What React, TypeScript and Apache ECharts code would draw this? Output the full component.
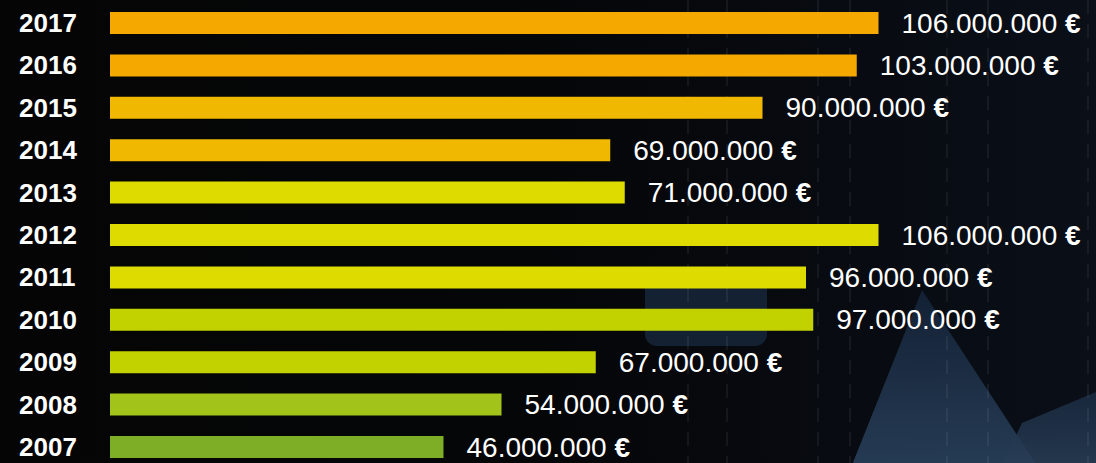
import React, { useEffect, useRef } from "react";
import * as echarts from "echarts";

// Data (bottom to top)
const years = ["2007", "2008", "2009", "2010", "2011", "2012", "2013", "2014", "2015", "2016", "2017"];
const amountsEur = [46000000, 54000000, 67000000, 97000000, 96000000, 106000000, 71000000, 69000000, 90000000, 103000000, 106000000];

// Styles
const barColors = ["#7DAE25", "#A2C41A", "#C2D200", "#C2D200", "#DDDB00", "#DDDB00", "#DDDB00", "#F0B800", "#F0B800", "#F5A800", "#F5A800"];
const bgLines = [688, 727, 818, 850, 947, 988, 1088];

function formatEuro(v: number): string {
  return String(Math.round(v)).replace(/\B(?=(\d{3})+(?!\d))/g, ".");
}

export default function App() {
  const ref = useRef<HTMLDivElement>(null);
  useEffect(() => {
    if (!ref.current) return;
    const chart = echarts.init(ref.current, undefined, { renderer: "svg" });
    const graphics: any[] = [
      {
        type: "rect",
        silent: true,
        z: -10,
        shape: { x: 0, y: 0, width: 1096, height: 470 },
        style: {
          fill: new echarts.graphic.LinearGradient(0, 0, 1, 0, [
            { offset: 0, color: "#050505" },
            { offset: 0.5, color: "#050608" },
            { offset: 1, color: "#0a0f18" },
          ]),
        },
      },
      {
        type: "rect",
        silent: true,
        z: -9,
        shape: { x: 645, y: 268, width: 122, height: 78, r: 12 },
        style: { fill: "#16263a", opacity: 0.85 },
      },
      {
        type: "polygon",
        silent: true,
        z: -9,
        shape: { points: [[850, 470], [922, 290], [1040, 470]] },
        style: {
          opacity: 0.85,
          fill: new echarts.graphic.LinearGradient(0, 0, 0, 1, [
            { offset: 0, color: "#15243a" },
            { offset: 1, color: "#2b4460" },
          ]),
        },
      },
      {
        type: "polygon",
        silent: true,
        z: -9,
        shape: { points: [[1000, 470], [1022, 423], [1096, 392], [1096, 470]] },
        style: {
          opacity: 0.85,
          fill: new echarts.graphic.LinearGradient(0, 0, 0, 1, [
            { offset: 0, color: "#1a2b42" },
            { offset: 1, color: "#2a4058" },
          ]),
        },
      },
    ];
    bgLines.forEach((x) => {
      graphics.push({
        type: "line",
        silent: true,
        z: -8,
        shape: { x1: x, y1: 0, x2: x, y2: 470 },
        style: { stroke: "rgba(255,255,255,0.06)", lineWidth: 2, lineDash: [14, 10] },
      });
    });

    chart.setOption({
      animation: false,
      backgroundColor: "#050505",
      graphic: graphics,
      grid: { left: 110, right: 0, top: 1.8, height: 466.4, containLabel: false },
      xAxis: {
        type: "value",
        min: 0,
        max: 136000000,
        show: false,
      },
      yAxis: {
        type: "category",
        data: years,
        axisLine: { show: false },
        axisTick: { show: false },
        splitLine: { show: false },
        axisLabel: {
          align: "left",
          margin: 91,
          color: "#ffffff",
          fontFamily: "Liberation Sans",
          fontWeight: "bold",
          fontSize: 26,
        },
      },
      series: [
        {
          type: "bar",
          barWidth: 22,
          data: amountsEur.map((v, i) => ({ value: v, itemStyle: { color: barColors[i] } })),
          label: {
            show: true,
            position: "right",
            distance: 23,
            formatter: (p: any) => `{v|${formatEuro(p.value)} }{e|€}`,
            rich: {
              v: { color: "#ffffff", fontFamily: "Liberation Sans", fontSize: 28 },
              e: { color: "#ffffff", fontFamily: "Liberation Sans", fontSize: 28, fontWeight: "bold" },
            },
          },
        },
      ],
    });
    return () => chart.dispose();
  }, []);
  return (
    <div
      ref={ref}
      style={{ position: "absolute", left: 0, top: 0, width: 1096, height: 470 }}
    />
  );
}
